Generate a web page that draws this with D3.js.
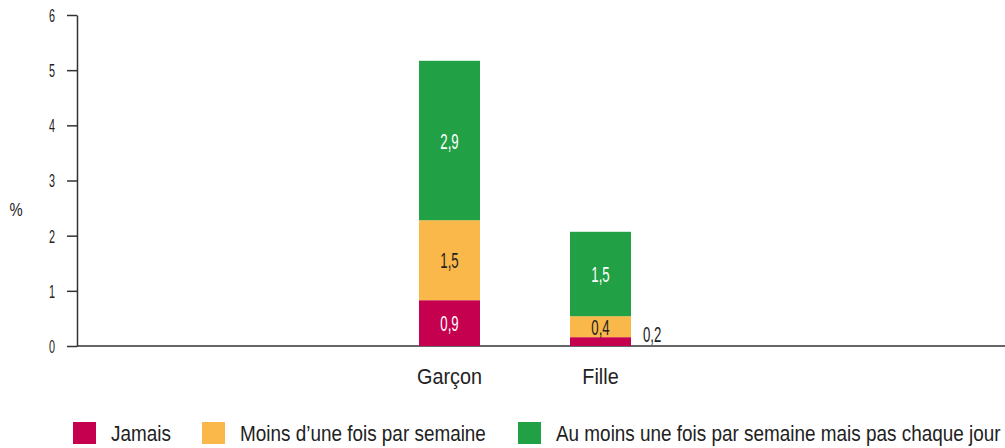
<!DOCTYPE html>
<html>
<head>
<meta charset="utf-8">
<script src="https://cdn.jsdelivr.net/npm/d3@7"></script>
<style>
  body { margin: 0; background: #fff; }
  svg text { font-family: "Liberation Sans", Arial, sans-serif; fill: #222; }
</style>
</head>
<body>
<svg id="chart" width="1005" height="448"></svg>
<script>
// categories and series (labels as printed)
const categories = ['Garçon', 'Fille'];
const seriesNames = ['Jamais', 'Moins d\u2019une fois par semaine', 'Au moins une fois par semaine mais pas chaque jour'];
const jamais = [0.83, 0.16];
const moins = [1.45, 0.38];
const auMoins = [2.89, 1.53];
const jamaisLabels = ['0,9', '0,2'];
const moinsLabels = ['1,5', '0,4'];
const auMoinsLabels = ['2,9', '1,5'];
const yTicks = [0, 1, 2, 3, 4, 5, 6];

const colors = ['#c4004f', '#fbb84a', '#21a045'];
const labelColors = ['#fff', '#222', '#fff'];

const svg = d3.select('#chart');

// the original uses a condensed face; squeeze the text horizontally
function squeeze(sel, sx) {
    sel.each(function() {
        const t = d3.select(this);
        const x = +t.attr('x') || 0;
        const y = +t.attr('y') || 0;
        t.attr('transform', `translate(${x},${y}) scale(${sx},1)`).attr('x', 0).attr('y', 0);
    });
}

const y = d3.scaleLinear().domain([0, 6]).range([346, 15]);
const x = d3.scalePoint().domain(categories).range([449.5, 600.5]);
const barWidth = 61;

// build stack rows
const rows = categories.map((c, i) => ({ cat: c, s0: jamais[i], s1: moins[i], s2: auMoins[i] }));
const labels = [jamaisLabels, moinsLabels, auMoinsLabels];
const stack = d3.stack().keys(['s0', 's1', 's2'])(rows);

// y axis
const yAxis = svg.append('g')
    .attr('transform', 'translate(77,0)')
    .call(d3.axisLeft(y).tickValues(yTicks).tickSize(10).tickSizeOuter(0).tickPadding(12).tickFormat(d3.format('d')));
yAxis.selectAll('line, path').attr('stroke', '#333').attr('stroke-width', 1.5);
yAxis.selectAll('text').style('font-size', '18px').attr('fill', '#222').attr('dy', '0.36em');
squeeze(yAxis.selectAll('text'), 0.6);

// x axis line
svg.append('line')
    .attr('x1', 77).attr('x2', 1005)
    .attr('y1', y(0)).attr('y2', y(0))
    .attr('stroke', '#333').attr('stroke-width', 1.5);

svg.append('text')
    .attr('x', 16).attr('y', 216)
    .attr('text-anchor', 'middle')
    .style('font-size', '19px')
    .text('%')
    .call(squeeze, 0.78);

// bars
stack.forEach((layer, k) => {
    const g = svg.append('g');
    g.selectAll('rect')
        .data(layer)
        .join('rect')
        .attr('x', d => x(d.data.cat) - barWidth / 2)
        .attr('width', barWidth)
        .attr('y', d => y(d[1]))
        .attr('height', d => y(d[0]) - y(d[1]))
        .attr('fill', colors[k]);

    g.selectAll('text')
        .data(layer)
        .join('text')
        .style('font-size', '22px')
        .each(function(d, i) {
            const h = y(d[0]) - y(d[1]);
            const t = d3.select(this).text(labels[k][i]);
            if (h < 14) {
                // too thin: put the label beside the bar
                t.attr('x', x(d.data.cat) + barWidth / 2 + 12)
                    .attr('y', y(d[0]) - 4)
                    .attr('text-anchor', 'start')
                    .style('fill', '#222');
            } else {
                t.attr('x', x(d.data.cat))
                    .attr('y', (y(d[0]) + y(d[1])) / 2 + 8)
                    .attr('text-anchor', 'middle')
                    .style('fill', labelColors[k]);
            }
        })
        .call(squeeze, 0.6);
});

// category labels
svg.selectAll('.cat')
    .data(categories)
    .join('text')
    .attr('class', 'cat')
    .attr('x', d => x(d))
    .attr('y', 384)
    .attr('text-anchor', 'middle')
    .style('font-size', '22px')
    .text(d => d)
    .call(squeeze, 0.9);

// legend
const legendX = [73, 202, 518];
const legend = svg.selectAll('.leg')
    .data(seriesNames)
    .join('g')
    .attr('class', 'leg')
    .attr('transform', (d, i) => `translate(${legendX[i]},422)`);
legend.append('rect')
    .attr('width', 23).attr('height', 22)
    .attr('fill', (d, i) => colors[i]);
legend.append('text')
    .attr('x', 38).attr('y', 19)
    .style('font-size', '22px')
    .text(d => d)
    .call(squeeze, 0.86);
</script>
</body>
</html>
